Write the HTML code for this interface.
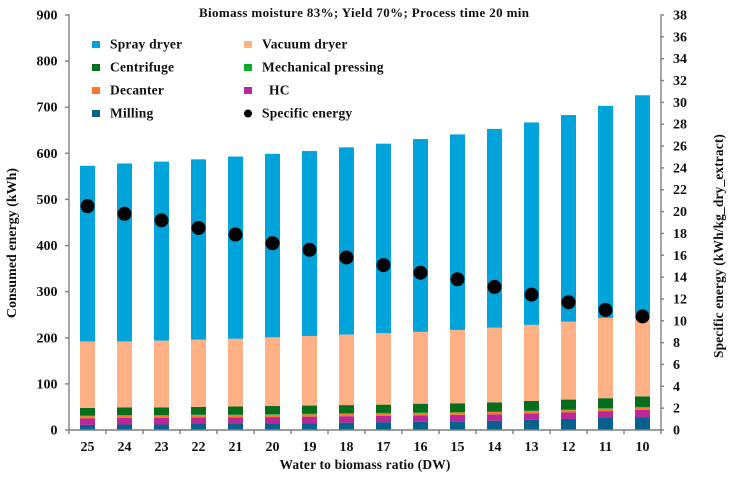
<!DOCTYPE html>
<html>
<head>
<meta charset="utf-8">
<style>
html,body{margin:0;padding:0;background:#fff;width:731px;height:477px;overflow:hidden}
svg{display:block}
text{font-family:"Liberation Serif",serif;font-weight:bold;fill:#111;font-size:14px}
</style>
</head>
<body>
<svg id="chart" width="731" height="477" viewBox="0 0 731 477" xmlns="http://www.w3.org/2000/svg">
  <text x="199" y="17" textLength="330" lengthAdjust="spacing" style="font-size:13px">Biomass moisture 83%; Yield 70%; Process time 20 min</text>
  <g id="bars"></g>
  <g id="axes"></g>
  <g id="dots"></g>
  <g id="legend"></g>
  <text x="365" y="469" text-anchor="middle" style="font-size:13.5px;letter-spacing:.15px">Water to biomass ratio (DW)</text>
  <text transform="translate(16,243) rotate(-90)" text-anchor="middle" style="font-size:14px">Consumed energy (kWh)</text>
  <text transform="translate(723,246) rotate(-90)" text-anchor="middle" style="font-size:13.5px;letter-spacing:.1px">Specific energy (kWh/kg_dry_extract)</text>
</svg>
<script>
const categories = [25,24,23,22,21,20,19,18,17,16,15,14,13,12,11,10];
const milling = [11,12,12,13,13,14,15,16,17,18,19,20,22,24,26,28];
const hc = [14,14,14,14,14,14,14,14,14,14,14,14,14,14,15,16];
const decanter = [5,5,5,5,5,5,5,5,5,5,5,5,5,5,5,5];
const mechanicalPressing = [1,1,1,1,1,1,1,1,1,1,1,1,1,1,1,1];
const centrifuge = [17,17,17,17,18,18,18,18,18,19,19,20,21,22,22,23];
const vacuumDryer = [144,143,145,146,147,149,151,153,155,156,159,162,165,169,174,179];
const sprayDryer = [381,386,388,391,395,398,401,406,411,418,424,431,439,448,460,474];
const specificEnergy = [20.5,19.8,19.2,18.5,17.9,17.1,16.5,15.8,15.1,14.4,13.8,13.1,12.4,11.7,11.0,10.4];
const leftTicks = [0,100,200,300,400,500,600,700,800,900];
const rightTicks = [0,2,4,6,8,10,12,14,16,18,20,22,24,26,28,30,32,34,36,38];

const NS = 'http://www.w3.org/2000/svg';
const plotL = 69, plotR = 661, plotT = 15, plotB = 430;
const yLeft = v => plotB - v / 900 * (plotB - plotT);
const yRight = v => plotB - v / 38 * (plotB - plotT);
const band = (plotR - plotL) / categories.length;
const xCenter = i => plotL + band * (i + 0.5);
const AXIS = '#7f7f7f';

function make(tag, attrs, parent, txt) {
  const el = document.createElementNS(NS, tag);
  for (const k in attrs) el.setAttribute(k, attrs[k]);
  if (txt !== undefined) el.textContent = txt;
  parent.appendChild(el);
  return el;
}

const stack = [
  {key:'milling', vals:milling, color:'#04628c'},
  {key:'hc', vals:hc, color:'#b9279a'},
  {key:'decanter', vals:decanter, color:'#fb7a28'},
  {key:'mechanical-pressing', vals:mechanicalPressing, color:'#0aaa2b'},
  {key:'centrifuge', vals:centrifuge, color:'#056e1c'},
  {key:'vacuum-dryer', vals:vacuumDryer, color:'#ffb085'},
  {key:'spray-dryer', vals:sprayDryer, color:'#00a3da'}
];

const barsG = document.getElementById('bars');
categories.forEach((c, i) => {
  let base = 0;
  stack.forEach(s => {
    const v = s.vals[i];
    const r = make('rect', {x: xCenter(i) - 7.5, y: yLeft(base + v), width: 15, height: yLeft(base) - yLeft(base + v), fill: s.color}, barsG);
    
    
    base += v;
  });
});

const axesG = document.getElementById('axes');
function line(x1, y1, x2, y2, name) {
  const l = make('line', {x1, y1, x2, y2, stroke: AXIS, 'stroke-width': 1.4}, axesG);
  
  
}
line(plotL, plotT - 0.7, plotL, plotB + 0.7, 'left-y-axis');
line(plotR, plotT - 0.7, plotR, plotB + 0.7, 'right-y-axis');
line(plotL, plotB, plotR, plotB, 'x-axis');

leftTicks.forEach(t => {
  line(plotL - 4, yLeft(t), plotL, yLeft(t), 'left-tick');
  const lbl = make('text', {x: plotL - 11.5, y: yLeft(t) + 4.5, 'text-anchor': 'end'}, axesG, t);
  
  
});
rightTicks.forEach(t => {
  line(plotR, yRight(t), plotR + 3, yRight(t), 'right-tick');
  const lbl = make('text', {x: plotR + 12, y: yRight(t) + 4.5}, axesG, t);
  
  
});
for (let i = 0; i <= categories.length; i++) {
  line(plotL + band * i, plotB, plotL + band * i, plotB + 4, 'x-tick');
}
categories.forEach((c, i) => {
  const lbl = make('text', {x: xCenter(i), y: 451, 'text-anchor': 'middle'}, axesG, c);
  
  
});

const dotsG = document.getElementById('dots');
specificEnergy.forEach((v, i) => {
  const d = make('circle', {cx: xCenter(i), cy: yRight(v), r: 7, fill: '#000'}, dotsG);
  
  
});

const legendLabels = ['Spray dryer','Vacuum dryer','Centrifuge','Mechanical pressing','Decanter','HC','Milling','Specific energy'];
const legendColors = ['#00a3da','#ffb085','#056e1c','#0aaa2b','#fb7a28','#b9279a','#04628c','#000'];
const legendG = document.getElementById('legend');
legendLabels.forEach((name, i) => {
  const col = i % 2, row = Math.floor(i / 2);
  const sx = col ? 244 : 92, tx = col ? 262 : 110, cy = 44.5 + row * 23;
  if (name === 'Specific energy') {
    const c = make('circle', {cx: sx + 4, cy, r: 4, fill: legendColors[i]}, legendG);
    
    
  } else {
    const r = make('rect', {x: sx, y: cy - 3.5, width: 8, height: 7, fill: legendColors[i]}, legendG);
    
    
  }
  const t = make('text', {x: name === 'HC' ? tx + 7 : tx, y: cy + 4, style: 'font-size:13.5px;letter-spacing:.2px'}, legendG, name);
  
  
});
</script>
</body>
</html>
